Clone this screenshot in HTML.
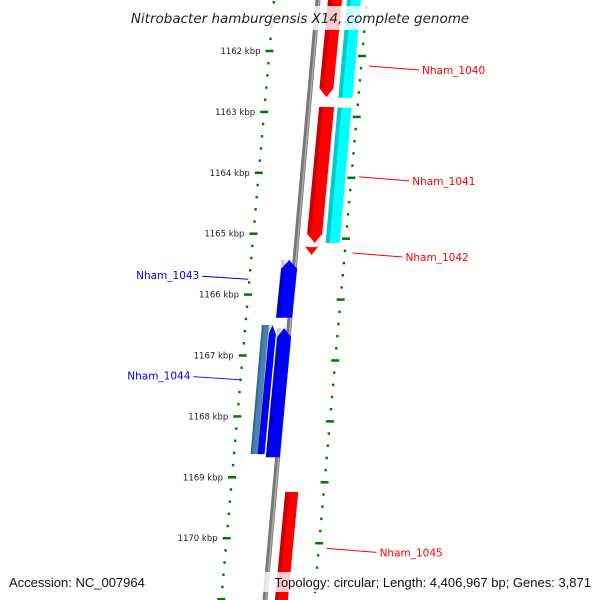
<!DOCTYPE html>
<html><head><meta charset="utf-8"><style>
html,body{margin:0;background:#fff;width:600px;height:600px;overflow:hidden}
svg{display:block;font-family:"DejaVu Sans","Liberation Sans",sans-serif;overflow:hidden}
</style></head><body>
<svg id="chart" width="600" height="600" viewBox="0 0 600 600" xmlns="http://www.w3.org/2000/svg">
<g id="ticks"></g>
<line x1="318" y1="0" x2="265" y2="600" stroke="#777" stroke-width="5"/>
<line x1="319" y1="0" x2="266" y2="600" stroke="#aaa" stroke-width="1.5"/>
<g id="genes"></g>
<g id="labels"></g>
<rect x="128" y="6" width="344" height="24" fill="#fff" opacity="0.8"/>
<text x="300" y="23" text-anchor="middle" font-size="13.5" font-style="italic" fill="#222">Nitrobacter hamburgensis X14, complete genome</text>
<rect x="258" y="572" width="340" height="20" fill="#fff" opacity="0.8"/>
<text x="9" y="587" font-size="13" fill="#111" font-family="Liberation Sans, sans-serif">Accession: NC_007964</text>
<text x="591" y="587" text-anchor="end" font-size="13" fill="#111" font-family="Liberation Sans, sans-serif">Topology: circular; Length: 4,406,967 bp; Genes: 3,871</text>
</svg>
<script>
const tickKbp=[1162,1163,1164,1165,1166,1167,1168,1169,1170];
const geneNames=["Nham_1040","Nham_1040b","Nham_1041","Nham_1041b","Nham_1042","Nham_1043","Nham_1044a","Nham_1044b","Nham_1044c","Nham_1045"];
const geneStart=[1161.16,1161.16,1162.92,1162.93,1165.22,1165.43,1166.5,1166.5,1166.55,1169.24];
const geneEnd=[1162.76,1162.77,1165.15,1165.15,1165.35,1166.38,1168.62,1168.62,1168.67,1171.2];
const geneStrand=[1,0,1,0,1,-1,0,-1,-1,1];
const geneColor=["#ff0000","#00ffff","#ff0000","#00ffff","#ff0000","#0000ff","#4682b4","#0000ff","#0000ff","#ff0000"];
const geneTrack=[17,36,18,36,16,-6,-24,-17,-5,17];
const geneHalfWidth=[7,7,7.5,7,7,8,3.5,3.5,7,6.5];
const labelText=["Nham_1040","Nham_1041","Nham_1042","Nham_1043","Nham_1044","Nham_1045"];
const labelKbp=[1162.28,1164.1,1165.35,1165.78,1167.43,1170.2];
const labelSide=[1,1,1,-1,-1,1];
const labelColor=["#ff0000","#ff0000","#ff0000","#0000ff","#0000ff","#ff0000"];

const NS="http://www.w3.org/2000/svg";
const yOf=k=>51+(k-1162)*60.9;
const bx=y=>318-0.088*y;
function mk(tag,attrs,parent){const e=document.createElementNS(NS,tag);for(const a in attrs)e.setAttribute(a,attrs[a]);parent.appendChild(e);return e;}
const T=document.getElementById('ticks');
for(let i=0;i<=55;i++){
  const k=1161+i*0.2;const major=Math.abs(k-Math.round(k))<0.01;
  const yl=yOf(k), yr=yOf(k)+5;
  const xl=bx(yl)-44, xr=bx(yr)+49;
  const a=mk('line',{x1:xl-(major?4:1.2),y1:yl,x2:xl+(major?4:1.2),y2:yl,stroke:'#007700','stroke-width':2.5},T);
  
  
  const b=mk('line',{x1:xr-(major?4:1.2),y1:yr,x2:xr+(major?4:1.2),y2:yr,stroke:'#007700','stroke-width':2.5},T);
  
  
}
tickKbp.forEach(k=>{
  const y=yOf(k);const t=mk('text',{x:bx(y)-53,y:y+3,'text-anchor':'end','font-size':8.5,fill:'#222'},T);
  t.textContent=k+' kbp';
  
  
});
const G=document.getElementById('genes');
geneNames.forEach((n,i)=>{
  const y1=yOf(geneStart[i]),y2=yOf(geneEnd[i]);const w=geneHalfWidth[i],h=9;
  const c1=bx(y1)+geneTrack[i],c2=bx(y2)+geneTrack[i];
  let pts;
  if(geneStrand[i]===1){pts=[[c1-w,y1],[c1+w,y1],[c2+w,y2-h],[c2,y2],[c2-w,y2-h]];}
  else if(geneStrand[i]===-1){pts=[[c1,y1],[c1+w,y1+h],[c2+w,y2],[c2-w,y2],[c1-w,y1+h]];}
  else{pts=[[c1-w,y1],[c1+w,y1],[c2+w,y2],[c2-w,y2]];}
  const p=mk('polygon',{points:pts.map(q=>q.join(',')).join(' '),fill:geneColor[i]},G);
  
  
  const sw=Math.min(4,w*0.6);
  const s=mk('polygon',{points:[[c1-w,y1],[c1-w+sw,y1],[c2-w+sw,y2-(geneStrand[i]===1?h:0)],[c2-w,y2-(geneStrand[i]===1?h:0)]].map(q=>q.join(',')).join(' '),fill:'#000',opacity:0.2},G);
  
  
});
const L=document.getElementById('labels');
labelText.forEach((n,i)=>{
  const y=yOf(labelKbp[i]);
  let x1,x2,tx,anchor;
  if(labelSide[i]===1){x1=bx(y)+57;x2=x1+50;tx=x2+3;anchor='start';}
  else{x1=bx(y)-45;x2=x1-46;tx=x2-3;anchor='end';}
  const l=mk('line',{x1:x1,y1:y-2,x2:x2,y2:y+(labelSide[i]===1?2:-5),stroke:labelColor[i],'stroke-width':1},L);
  
  
  const t=mk('text',{x:tx,y:y+(labelSide[i]===1?6:-2),'text-anchor':anchor,'font-size':10.5,fill:labelColor[i]},L);
  t.textContent=n;
  
  
});
</script>
</body></html>
